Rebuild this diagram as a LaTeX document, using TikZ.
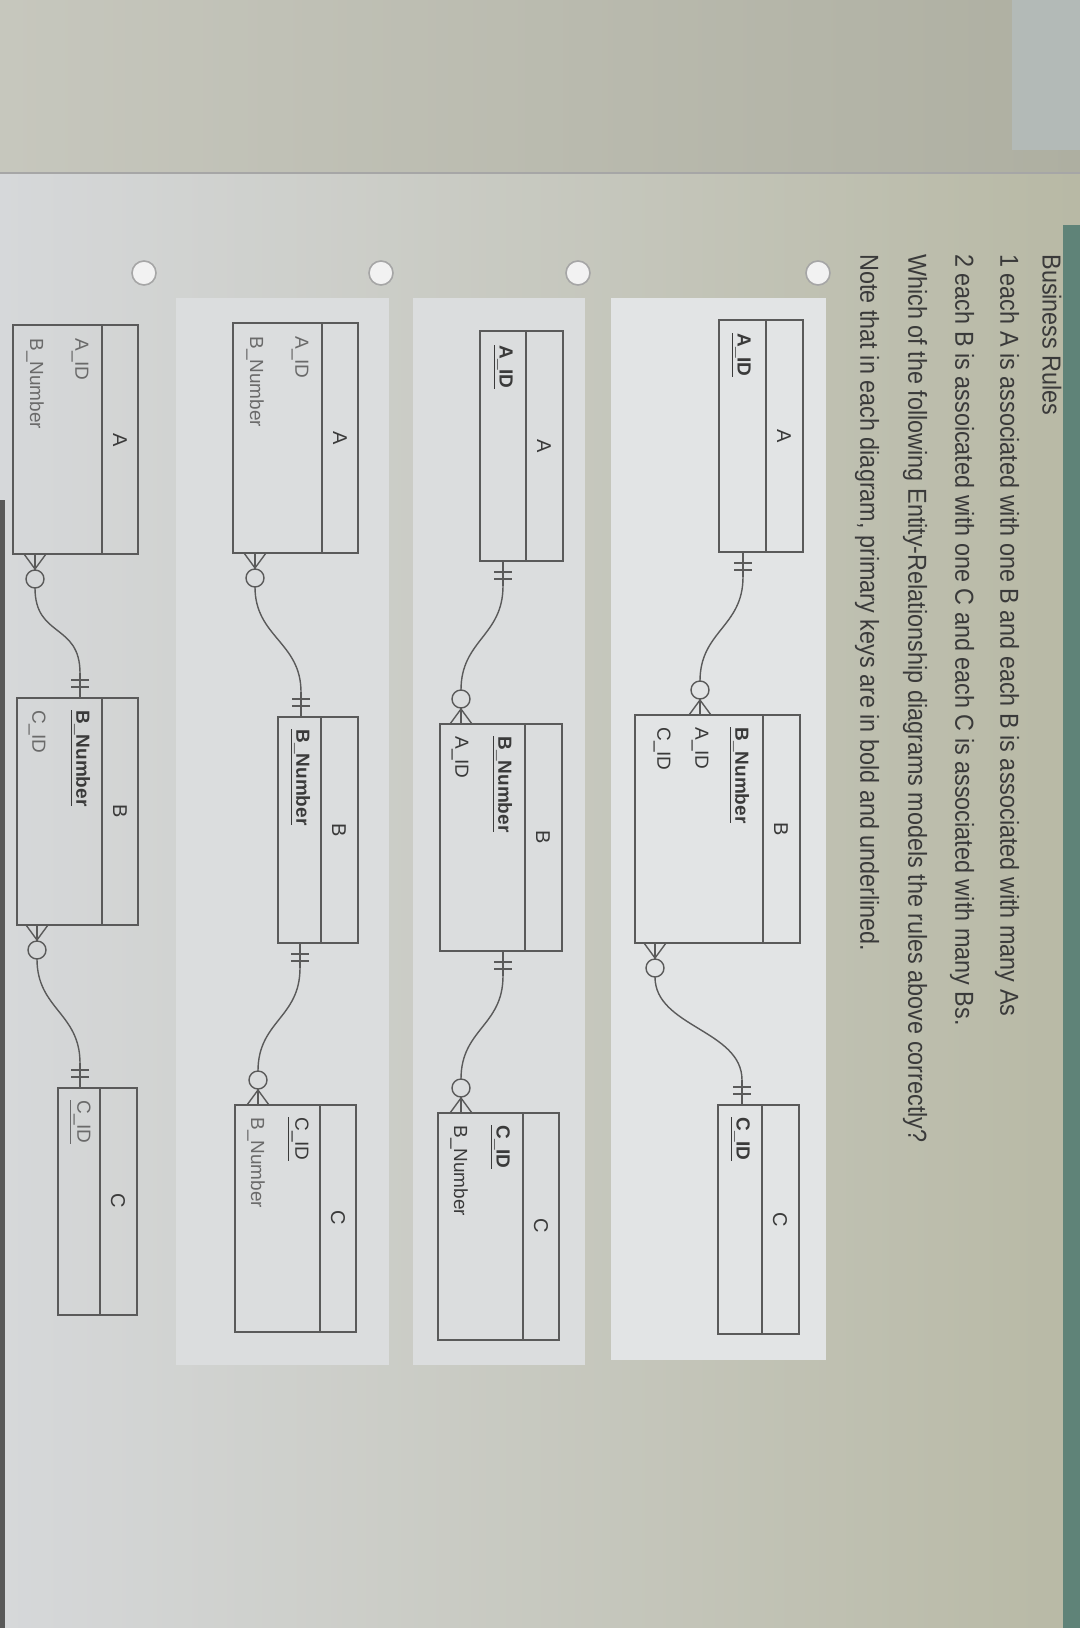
\documentclass[tikz,border=0pt]{standalone}
\usepackage{fontspec}
\setmainfont{Liberation Sans}
\usetikzlibrary{calc}
\definecolor{ink}{HTML}{3A3A3A}
\definecolor{grayink}{HTML}{6A6A6A}
\definecolor{edge}{HTML}{5A5A5A}
\definecolor{pagel}{HTML}{D6D8DA}
\definecolor{pager}{HTML}{B8B9A5}
\definecolor{topband}{HTML}{AEAFA1}
\definecolor{panelc}{HTML}{E2E4E5}
\definecolor{teal}{HTML}{5F8378}
\definecolor{corner}{HTML}{B3BAB7}
\tikzset{
  rel/.style={draw=edge, line width=0.7pt},
  entline/.style={draw=edge, line width=0.8pt},
  maintext/.style={font=\fontsize{13}{15}\selectfont, text=ink, rotate=-90, anchor=west, inner sep=0pt},
  attr/.style={font=\fontsize{9.5}{11}\selectfont, text=ink, rotate=-90, anchor=west, inner sep=0pt},
  attrg/.style={attr, text=grayink},
  ttl/.style={font=\fontsize{10}{12}\selectfont, text=ink, rotate=-90, inner sep=0pt},
  radio/.style={draw=gray!70, fill=white!90!gray, line width=0.8pt, circle, minimum size=12pt, inner sep=0pt}
}
\newcommand\pk[1]{\underline{\textbf{#1}}}
\newcommand\entbox[6]{% name x1 y1 x2 y2 div
  \coordinate (#1nw) at (#2,#3); \coordinate (#1se) at (#4,#5);
  \draw[entline] (#1nw) rectangle (#1se);
  \draw[entline] (#6,#3) -- (#6,#5);}
\newcommand\onetop[3]{\coordinate (#1) at (#2,#3);
  \draw[rel] (#1) -- (#2,{#3+25});
  \draw[rel] ({#2-9},{#3+11}) -- ({#2+9},{#3+11});
  \draw[rel] ({#2-9},{#3+18}) -- ({#2+9},{#3+18});
  \coordinate (#1e) at (#2,{#3+25});}
\newcommand\manytop[3]{\coordinate (#1) at (#2,#3);
  \draw[rel] ({#2-11},#3) -- (#2,{#3+15}) -- ({#2+11},#3);
  \draw[rel] (#1) -- (#2,{#3+16});
  \draw[rel] (#2,{#3+25}) circle[radius=4.5pt];
  \coordinate (#1e) at (#2,{#3+34});}
\newcommand\onebot[3]{\coordinate (#1) at (#2,#3);
  \draw[rel] (#1) -- (#2,{#3-25});
  \draw[rel] ({#2-9},{#3-11}) -- ({#2+9},{#3-11});
  \draw[rel] ({#2-9},{#3-18}) -- ({#2+9},{#3-18});
  \coordinate (#1e) at (#2,{#3-25});}
\newcommand\manybot[3]{\coordinate (#1) at (#2,#3);
  \draw[rel] ({#2-11},#3) -- (#2,{#3-15}) -- ({#2+11},#3);
  \draw[rel] (#1) -- (#2,{#3-16});
  \draw[rel] (#2,{#3-25}) circle[radius=4.5pt];
  \coordinate (#1e) at (#2,{#3-34});}
\newcommand\link[2]{\draw[rel] (#1e) .. controls ($(#1e)+(0,50)$) and ($(#2e)+(0,-50)$) .. (#2e);}
\begin{document}
\begin{tikzpicture}[x=0.5pt,y=-0.5pt]
\useasboundingbox (0,0) rectangle (1080,1628);
% background
\shade[left color=pagel, right color=pager] (0,0) rectangle (1080,1628);
\shade[left color=topband!70!white, right color=topband] (0,0) rectangle (1080,173);
\draw[black!35, line width=0.8pt] (0,173) -- (1080,173);
\fill[corner] (1012,0) rectangle (1080,150);
\fill[teal] (1063,225) rectangle (1080,1628);
\fill[black!65] (0,500) rectangle (5,1628);
% panels
\fill[panelc] (611,298) rectangle (826,1360);
\fill[panelc!97!black] (413,298) rectangle (585,1365);
\fill[panelc!97!black] (176,298) rectangle (389,1365);
% header text
\node[maintext] (t0) at (1052,254) {\scalebox{0.9}[1]{Business Rules}};
\node[maintext] (t1) at (1007,254) {\scalebox{0.9}[1]{1 each A is associated with one B and each B is associated with many As}};
\node[maintext] (t2) at (962,254) {\scalebox{0.9}[1]{2 each B is assoicated with one C and each C is associated with many Bs.}};
\node[maintext] (t3) at (915,254) {\scalebox{0.9}[1]{Which of the following Entity-Relationship diagrams models the rules above correctly?}};
\node[maintext] (t4) at (867,254) {\scalebox{0.9}[1]{Note that in each diagram, primary keys are in bold and underlined.}};
% radios
\node[radio] (r1) at (818,273) {};
\node[radio] (r2) at (578,273) {};
\node[radio] (r3) at (381,273) {};
\node[radio] (r4) at (144,273) {};
% ---------- Option 1
\entbox{oA}{719}{320}{803}{552}{766}
\node[ttl] (oAt) at (784,436) {A};
\node[attr] (oA1) at (741,333) {\pk{A\_ID}};
\entbox{oB}{635}{715}{800}{943}{763}
\node[ttl] (oBt) at (781,829) {B};
\node[attr] (oB1) at (739,727) {\pk{B\_Number}};
\node[attr] (oB2) at (700,727) {A\_ID};
\node[attr] (oB3) at (662,727) {C\_ID};
\entbox{oC}{718}{1105}{799}{1334}{762}
\node[ttl] (oCt) at (780,1220) {C};
\node[attr] (oC1) at (740,1117) {\pk{C\_ID}};
\onetop{oab}{743}{552}\manybot{oba}{700}{715}\link{oab}{oba}
\manytop{obc}{655}{943}\onebot{ocb}{742}{1105}\link{obc}{ocb}
% ---------- Option 2
\entbox{tA}{480}{331}{563}{561}{526}
\node[ttl] (tAt) at (544,446) {A};
\node[attr] (tA1) at (503,345) {\pk{A\_ID}};
\entbox{tB}{440}{724}{562}{951}{525}
\node[ttl] (tBt) at (543,837) {B};
\node[attr] (tB1) at (502,736) {\pk{B\_Number}};
\node[attr] (tB2) at (460,736) {A\_ID};
\entbox{tC}{438}{1113}{559}{1340}{523}
\node[ttl] (tCt) at (541,1226) {C};
\node[attr] (tC1) at (500,1125) {\pk{C\_ID}};
\node[attr] (tC2) at (459,1125) {B\_Number};
\onetop{tab}{503}{561}\manybot{tba}{461}{724}\link{tab}{tba}
\onetop{tbc}{503}{951}\manybot{tcb}{461}{1113}\link{tbc}{tcb}
% ---------- Option 3
\entbox{hA}{233}{323}{358}{553}{322}
\node[ttl] (hAt) at (340,438) {A};
\node[attrg] (hA1) at (300,336) {A\_ID};
\node[attrg] (hA2) at (255,336) {B\_Number};
\entbox{hB}{278}{717}{358}{943}{321}
\node[ttl] (hBt) at (339,830) {B};
\node[attr] (hB1) at (300,729) {\pk{B\_Number}};
\entbox{hC}{235}{1105}{356}{1332}{320}
\node[ttl] (hCt) at (338,1218) {C};
\node[attr] (hC1) at (298,1117) {\underline{C\_ID}};
\node[attrg] (hC2) at (256,1117) {B\_Number};
\manytop{hab}{255}{553}\onebot{hba}{301}{717}\link{hab}{hba}
\onetop{hbc}{300}{943}\manybot{hcb}{258}{1105}\link{hbc}{hcb}
% ---------- Option 4
\entbox{fA}{13}{325}{138}{554}{102}
\node[ttl] (fAt) at (120,440) {A};
\node[attrg] (fA1) at (80,338) {A\_ID};
\node[attrg] (fA2) at (35,338) {B\_Number};
\entbox{fB}{17}{698}{138}{925}{102}
\node[ttl] (fBt) at (120,811) {B};
\node[attr] (fB1) at (80,710) {\pk{B\_Number}};
\node[attrg] (fB2) at (37,710) {C\_ID};
\entbox{fC}{58}{1088}{137}{1315}{100}
\node[ttl] (fCt) at (118,1201) {C};
\node[attrg] (fC1) at (80,1100) {\underline{C\_ID}};
\manytop{fab}{35}{554}\onebot{fba}{80}{698}\link{fab}{fba}
\manytop{fbc}{37}{925}\onebot{fcb}{80}{1088}\link{fbc}{fcb}
\end{tikzpicture}
\end{document}
